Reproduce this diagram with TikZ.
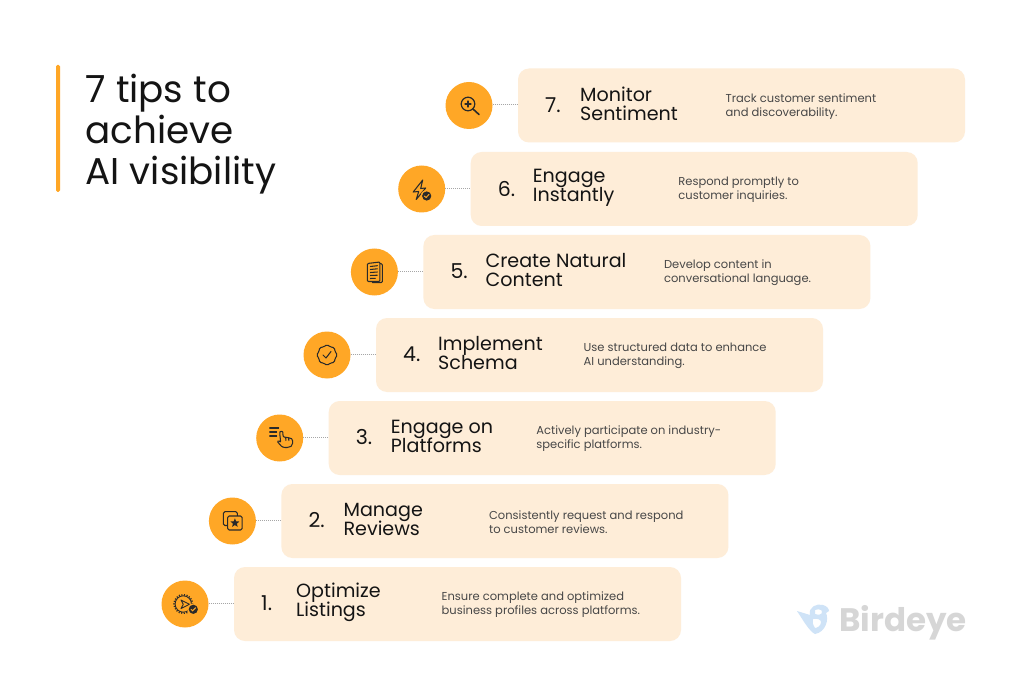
\documentclass[tikz,border=0pt]{standalone}
\usepackage{fontspec}
\setmainfont{Poppins}
\usetikzlibrary{shapes.geometric}
\definecolor{tiporange}{HTML}{FFA726}
\definecolor{tipcard}{HTML}{FEEDD8}
\definecolor{ink}{HTML}{141414}
\definecolor{iconink}{HTML}{2A2A2A}
\definecolor{logogrey}{HTML}{D6D6D6}
\definecolor{logoblue}{HTML}{CFE3F7}
\newcommand{\tightlines}{\lineskiplimit=-30pt\relax}
\tikzset{
  tipcard/.style={fill=tipcard,rounded corners=11pt,minimum width=447pt,minimum height=74pt,inner sep=0pt},
  tipdisc/.style={circle,fill=tiporange,minimum size=47pt,inner sep=0pt},
  tiplink/.style={draw=black!35,line width=1pt,dash pattern=on 1pt off 1pt},
  tipnum/.style={text=ink,font=\fontsize{20.5}{20}\selectfont,anchor=west,inner sep=0pt},
  tiphead/.style={text=ink,font=\fontsize{19.1}{19}\selectfont\tightlines,anchor=west,align=left,inner sep=0pt},
  tipdesc/.style={text=black!72,font=\fontsize{11.5}{14}\selectfont\tightlines,anchor=west,align=left,inner sep=0pt},
  ico/.style={draw=iconink,line width=1.05pt,line cap=round,line join=round},
  icofill/.style={fill=iconink,draw=none}
}
\newcommand{\tiprow}[8]{%
  \node[tipcard] (card#1) at (#2+223.5,#3) {};
  \node[tipdisc] (disc#1) at (#2-49,#3) {};
  \draw[tiplink] ([yshift=.7pt]disc#1.east) -- ([yshift=.7pt]card#1.west);
  \node[tipnum] (num#1) at (#2+#4,#3-.5) {#1.};
  \node[tiphead] (head#1) at (#2+62,#3-1.7) {#5\\#6};
  \node[tipdesc] (desc#1) at (#2+#7,#3+1) {#8};
}
\begin{document}
\begin{tikzpicture}[x=1pt,y=-1pt]
\useasboundingbox (0,0) rectangle (1024,692);
\fill[white] (0,0) rectangle (1024,692);
% title
\fill[tiporange,rounded corners=1.5pt] (56,65) rectangle (60,192);
\node[anchor=west,align=left,inner sep=0pt,text=ink,font=\fontsize{37.3}{41}\selectfont\tightlines] (title) at (85.5,134) {7 tips to\\achieve\\AI visibility};
% rows
\tiprow{1}{234}{604}{27}{Optimize}{Listings}{207.5}{Ensure complete and optimized\\business profiles across platforms.}
\tiprow{2}{281.4}{521}{27}{Manage}{Reviews}{207.5}{Consistently request and respond\\to customer reviews.}
\tiprow{3}{328.7}{438}{27}{Engage on}{Platforms}{207.5}{Actively participate on industry-\\specific platforms.}
\tiprow{4}{376}{355}{27}{Implement}{Schema}{207.5}{Use structured data to enhance\\AI understanding.}
\tiprow{5}{423.4}{272}{27}{Create Natural}{Content}{240.5}{Develop content in\\conversational language.}
\tiprow{6}{470.7}{189}{27}{Engage}{Instantly}{207.5}{Respond promptly to\\customer inquiries.}
\tiprow{7}{518}{105.5}{27}{Monitor}{Sentiment}{207.5}{Track customer sentiment\\and discoverability.}
% icon 1: gear, play, check
\begin{scope}[shift={(disc1.center)}]
  \draw[iconink,dash pattern=on 1.1pt off 1.5pt,line width=1.5pt] (-1.7,0) circle (9.3);
  \draw[ico,line width=.9pt] (-1.7,0) circle (8.2);
  \draw[ico,line width=.9pt,fill=tiporange] (-4,-4) -- (4.5,.3) -- (-4,4.5) -- (-1.7,.3) -- cycle;
  \fill[tiporange] (8.3,5.3) circle (6);
  \fill[iconink] (8.3,5.3) circle (4.6);
  \draw[tiporange,line width=1pt,line cap=round] (6.1,5.4) -- (7.7,6.8) -- (10.5,3.8);
\end{scope}
% icon 2: overlapping squares with star
\begin{scope}[shift={(disc2.center)}]
  \draw[ico,rounded corners=1.5pt] (-4.7,4.5) -- (-9,4.5) -- (-9,-9.3) -- (5,-9.3) -- (5,-5);
  \draw[ico,rounded corners=1.5pt,fill=tiporange] (-4.7,-5) rectangle (9.7,9);
  \node[star,star points=5,star point ratio=2.3,fill=iconink,inner sep=0pt,minimum size=9.5pt] (star2) at (2.5,2) {};
\end{scope}
% icon 3: hand with motion lines
\begin{scope}[shift={(disc3.center)}]
  \draw[ico] (-10,-10) -- (-1,-10) (-10,-6) -- (-3,-6) (-10,-2) -- (-3,-2);
  \begin{scope}[shift={(2.5,0)}]
  \draw[ico,rounded corners=1pt] (-1,8) -- (-5,3.5) -- (-3.5,2.5) -- (-1.5,4.5) -- (-2.5,-5) .. controls (-2.2,-7) and (.6,-7) .. (.6,-5) -- (1,-1) -- (5,-.5) .. controls (9,0) and (10.5,1) .. (10.5,4) .. controls (10.5,8) and (8,9.5) .. (4,9.5) .. controls (1.5,9.5) and (0,9) .. (-1,8);
  \draw[ico] (3.5,-.5) -- (3.7,2.5) (6.5,0) -- (6.6,2.5);
  \end{scope}
\end{scope}
% icon 4: badge with check
\begin{scope}[shift={(disc4.center)}]
  \draw[ico,rounded corners=1.4pt] (0,-10.5) -- (3.4,-8) -- (7.4,-7.4) -- (8,-3.4) -- (10.5,0) -- (8,3.4) -- (7.4,7.4) -- (3.4,8) -- (0,10.5) -- (-3.4,8) -- (-7.4,7.4) -- (-8,3.4) -- (-10.5,0) -- (-8,-3.4) -- (-7.4,-7.4) -- (-3.4,-8) -- cycle;
  \draw[ico] (-4,0) -- (-1,3) -- (4,-3.5);
\end{scope}
% icon 5: document
\begin{scope}[shift={(disc5.center)}]
  \draw[ico,rounded corners=1pt] (5,-8.5) -- (8,-8) -- (8,10.5) -- (-2,10.5);
  \draw[ico,rounded corners=1pt,fill=tiporange] (-7,-8.5) -- (5.5,-10) -- (5.5,9.5) -- (-7,9.5) -- cycle;
  \draw[ico] (-4,-5.5) -- (3,-6.3) (-4,-2.5) -- (3,-3.2) (-4,.5) -- (3,0) (-4,3.5) -- (3,3.2) (-4,6.5) -- (1,6.3);
\end{scope}
% icon 6: bolt with check
\begin{scope}[shift={(disc6.center)}]
  \draw[ico] (1,-9) -- (-8.5,3) -- (-3,2.5) -- (-5.5,10.5) -- (4,-1) -- (-1,-.5) -- cycle;
  \fill[tiporange] (5,7) circle (6);
  \fill[iconink] (5,7) circle (4.6);
  \draw[tiporange,line width=1pt,line cap=round] (2.8,7.1) -- (4.4,8.5) -- (7.2,5.5);
\end{scope}
% icon 7: magnifier
\begin{scope}[shift={(disc7.center)}]
  \draw[ico,line width=1.2pt] (-1,-1.5) circle (6.8);
  \draw[ico] (-1,-4.5) -- (-1,1.5) (-4,-1.5) -- (2,-1.5);
  \draw[ico,line width=1.6pt] (4,3.5) -- (10,9);
\end{scope}
% logo
\node[anchor=west,inner sep=0pt,text=logogrey,font=\bfseries\fontsize{32.5}{34}\selectfont] (logotext) at (839,622.5) {Birdeye};
\fill[logoblue,even odd rule] (797,611) -- (810,615) .. controls (808,607) and (817,603) .. (823,605) .. controls (827,606) and (829,609) .. (829,611) -- (826,613) .. controls (829,619) and (826,632) .. (815,634) .. controls (809,631) and (803,620) .. (797,611) -- cycle
 (815,610) .. controls (818,609) and (822,609) .. (822,612) .. controls (822,615) and (818,615) .. (815,614) -- cycle
 (813,619) .. controls (818,618) and (821,620) .. (821,622) .. controls (821,626) and (817,628) .. (815,628) .. controls (813,625) and (812,622) .. (813,619) -- cycle;
\end{tikzpicture}
\end{document}
